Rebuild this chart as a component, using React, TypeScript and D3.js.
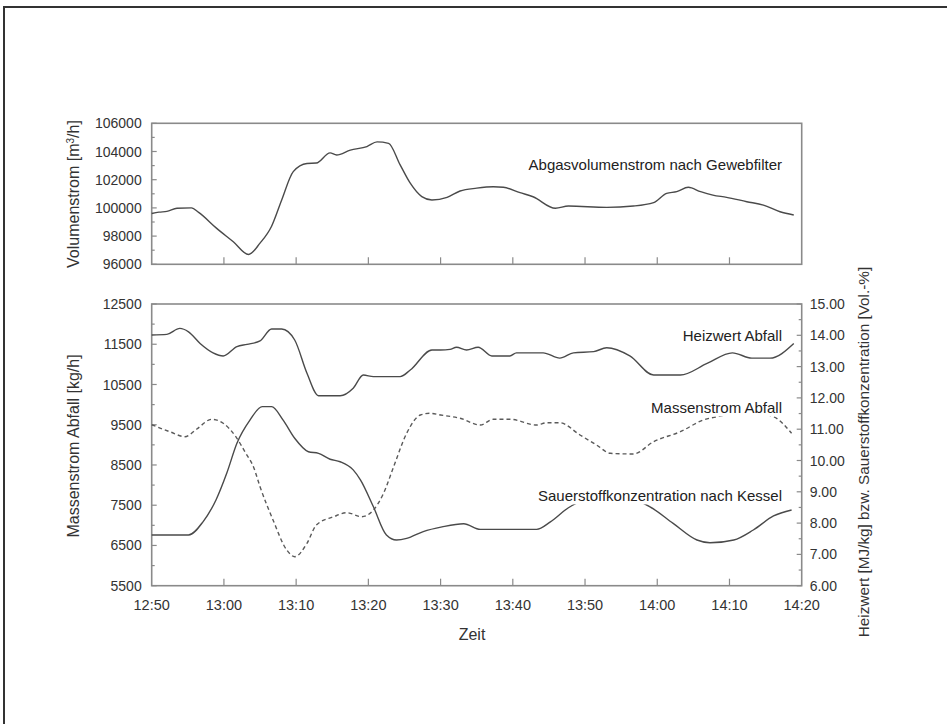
import { useEffect, useRef } from 'react';
import * as d3 from 'd3';

// minutes after 12:50
const xTickLabels = ['12:50', '13:00', '13:10', '13:20', '13:30', '13:40', '13:50', '14:00', '14:10', '14:20'];

const volTime = [0, 1, 2.1, 3.5, 5.5, 6.5, 9, 11.3, 13.4, 15, 16.6, 18, 19.6, 21.5, 22.8, 24.7, 25.6, 27.5, 29.8, 31.2, 32.8, 34.4, 35.8, 37.4, 38.8, 40.9, 42.7, 45, 47.3, 48.7, 51, 52.8, 55.9, 57.7, 63, 66.7, 69.5, 71.3, 72.7, 74.3, 76, 77.7, 79.6, 82.4, 84.7, 87, 88.9];
const volValue = [99600, 99700, 99750, 99980, 100000, 99680, 98550, 97600, 96700, 97500, 98700, 100560, 102570, 103150, 103180, 103900, 103750, 104100, 104350, 104680, 104580, 103050, 101750, 100800, 100560, 100750, 101200, 101400, 101500, 101460, 101080, 100790, 99970, 100130, 100040, 100130, 100370, 101030, 101150, 101460, 101150, 100910, 100750, 100440, 100200, 99730, 99500];

const heizTime = [0, 2.1, 3.9, 5.1, 6.7, 8.5, 9.9, 11.8, 13.2, 15, 16.6, 18, 19.8, 21.5, 23.1, 26.1, 27.9, 29.3, 30.7, 34.4, 35.8, 38.8, 40, 41.3, 42.2, 43.6, 45.2, 47.1, 49.6, 50.5, 54.2, 56.5, 58.4, 61.2, 63, 66.2, 69.5, 73.2, 76.9, 80.4, 83.1, 85.6, 88.9];
const heizValue = [14.01, 14.03, 14.22, 14.11, 13.74, 13.44, 13.34, 13.64, 13.71, 13.82, 14.2, 14.2, 13.85, 12.79, 12.07, 12.07, 12.31, 12.73, 12.68, 12.68, 12.89, 13.53, 13.53, 13.55, 13.62, 13.53, 13.62, 13.34, 13.34, 13.44, 13.44, 13.27, 13.44, 13.48, 13.6, 13.34, 12.73, 12.73, 13.1, 13.44, 13.27, 13.27, 13.74];

const massTime = [0, 2.5, 4.6, 6.2, 8.3, 9.9, 11.8, 13, 14.1, 15, 16.8, 18.7, 19.8, 21.5, 22.8, 25.2, 27, 29.1, 30.7, 32.1, 33.5, 35.3, 37.2, 38.5, 40, 42.7, 45.5, 47.3, 49.6, 53.3, 54.7, 56.5, 59.3, 61.6, 63.5, 66.7, 69.5, 73.2, 76.4, 78.3, 80, 82, 84, 86.1, 88.6];
const massValue = [9500, 9327, 9203, 9387, 9635, 9536, 9163, 8800, 8450, 7960, 7133, 6387, 6221, 6554, 7008, 7215, 7314, 7215, 7381, 7796, 8457, 9287, 9742, 9784, 9742, 9660, 9493, 9635, 9635, 9493, 9550, 9550, 9245, 8996, 8790, 8773, 9080, 9327, 9618, 9700, 9760, 9800, 9780, 9700, 9287];

const o2Time = [0, 5.1, 7.1, 8.9, 10.4, 11.8, 13.6, 15.3, 16.6, 18.2, 19.8, 21.7, 23.1, 24.7, 26.1, 27.9, 28.9, 30.7, 32.5, 33.9, 35.3, 37.6, 40.2, 43.2, 45.5, 53.3, 55.2, 57.7, 60, 63, 66, 69, 72.2, 75.5, 77.3, 80.6, 83.3, 86.1, 88.6];
const o2Value = [7.62, 7.62, 8.04, 8.74, 9.6, 10.55, 11.29, 11.72, 11.72, 11.29, 10.71, 10.28, 10.23, 10.04, 9.96, 9.7, 9.38, 8.52, 7.62, 7.46, 7.51, 7.73, 7.88, 7.98, 7.8, 7.8, 8.04, 8.49, 8.75, 8.85, 8.8, 8.52, 7.99, 7.46, 7.37, 7.46, 7.78, 8.23, 8.42];

const volTicks = [96000, 98000, 100000, 102000, 104000, 106000];
const massTicks = [5500, 6500, 7500, 8500, 9500, 10500, 11500, 12500];
const rightTicks = [6, 7, 8, 9, 10, 11, 12, 13, 14, 15];

export default function App() {
  const svgRef = useRef<SVGSVGElement>(null);

  useEffect(() => {
    if (!svgRef.current) return;
    const svg = d3.select(svgRef.current);
    svg.selectAll('*').remove();

    const font = '"Liberation Sans", Arial, sans-serif';
    const textColor = '#333';
    const frameColor = '#8a8a8a';
    const lineColor = '#4a4a4a';

    const left = 151.7;
    const right = 801.7;
    const x = d3.scaleLinear().domain([0, 90]).range([left, right]);

    const topPanel = { top: 123.3, bottom: 264.3 };
    const botPanel = { top: 304, bottom: 585.7 };

    const yVol = d3.scaleLinear().domain([96000, 106000]).range([topPanel.bottom, topPanel.top]);
    const yMass = d3.scaleLinear().domain([5500, 12500]).range([botPanel.bottom, botPanel.top]);
    const yRight = d3.scaleLinear().domain([6, 15]).range([botPanel.bottom, botPanel.top]);

    // outer frame
    svg.append('rect')
      .attr('x', 4).attr('y', 7)
      .attr('width', 960).attr('height', 740)
      .attr('fill', 'none')
      .attr('stroke', '#333')
      .attr('stroke-width', 2);

    const drawFrame = (p: { top: number; bottom: number }) => {
      svg.append('rect')
        .attr('x', left).attr('y', p.top)
        .attr('width', right - left).attr('height', p.bottom - p.top)
        .attr('fill', 'none')
        .attr('stroke', frameColor)
        .attr('stroke-width', 1.6);
      // x ticks, inward
      for (let i = 1; i < 9; i++) {
        svg.append('line')
          .attr('x1', x(i * 10)).attr('x2', x(i * 10))
          .attr('y1', p.bottom).attr('y2', p.bottom - 7)
          .attr('stroke', frameColor).attr('stroke-width', 1.2);
      }
    };
    drawFrame(topPanel);
    drawFrame(botPanel);

    const yTicks = (scale: d3.ScaleLinear<number, number>, ticks: number[], side: 'left' | 'right', fmt: (v: number) => string) => {
      const x0 = side === 'left' ? left : right;
      const dir = side === 'left' ? 1 : -1;
      ticks.forEach((t, i) => {
        svg.append('line')
          .attr('x1', x0).attr('x2', x0 + dir * 5)
          .attr('y1', scale(t)).attr('y2', scale(t))
          .attr('stroke', frameColor).attr('stroke-width', 1.2);
        if (i < ticks.length - 1) {
          const mid = (t + ticks[i + 1]) / 2;
          svg.append('line')
            .attr('x1', x0).attr('x2', x0 + dir * 3)
            .attr('y1', scale(mid)).attr('y2', scale(mid))
            .attr('stroke', frameColor).attr('stroke-width', 1.2);
        }
        svg.append('text')
          .attr('x', side === 'left' ? left - 10 : right + 8)
          .attr('y', scale(t))
          .attr('dy', '0.36em')
          .attr('text-anchor', side === 'left' ? 'end' : 'start')
          .style('font-family', font)
          .style('font-size', '14px')
          .style('fill', textColor)
          .text(fmt(t));
      });
    };
    yTicks(yVol, volTicks, 'left', d => String(d));
    yTicks(yMass, massTicks, 'left', d => String(d));
    yTicks(yRight, rightTicks, 'right', d => d.toFixed(2));

    xTickLabels.forEach((lbl, i) => {
      svg.append('text')
        .attr('x', x(i * 10))
        .attr('y', 610)
        .attr('text-anchor', 'middle')
        .style('font-family', font)
        .style('font-size', '14.5px')
        .style('fill', textColor)
        .text(lbl);
    });

    svg.append('text')
      .attr('x', 472).attr('y', 640)
      .attr('text-anchor', 'middle')
      .style('font-family', font)
      .style('font-size', '16px')
      .style('fill', textColor)
      .text('Zeit');

    const rotTitle = (cx: number, cy: number, label: string, size = 16) => {
      const t = svg.append('text')
        .attr('transform', `translate(${cx},${cy}) rotate(-90)`)
        .attr('text-anchor', 'middle')
        .style('font-family', font)
        .style('font-size', `${size}px`)
        .style('fill', textColor);
      return t.text(label);
    };
    const volTitle = rotTitle(79, 194, '');
    volTitle.append('tspan').text('Volumenstrom [m');
    volTitle.append('tspan').attr('dy', -5).style('font-size', '10px').text('3');
    volTitle.append('tspan').attr('dy', 5).text('/h]');
    rotTitle(79, 446, 'Massenstrom Abfall [kg/h]');
    rotTitle(869, 452, 'Heizwert [MJ/kg] bzw. Sauerstoffkonzentration [Vol.-%]', 15.3);

    const series = (ts: number[], vs: number[], scale: d3.ScaleLinear<number, number>, dashed: boolean) => {
      const pts = ts.map((t, i) => [t, vs[i]] as [number, number]);
      const line = d3.line<[number, number]>()
        .x(d => x(d[0]))
        .y(d => scale(d[1]))
        .curve(d3.curveMonotoneX);
      svg.append('path')
        .attr('d', line(pts))
        .attr('fill', 'none')
        .attr('stroke', dashed ? '#5a5a5a' : lineColor)
        .attr('stroke-width', 1.4)
        .attr('stroke-dasharray', dashed ? '4,3' : null);
    };
    series(volTime, volValue, yVol, false);
    series(heizTime, heizValue, yRight, false);
    series(massTime, massValue, yMass, true);
    series(o2Time, o2Value, yRight, false);

    const annotate = (xEnd: number, yMid: number, label: string) => {
      const g = svg.append('g');
      const bg = g.append('rect').attr('fill', '#fff');
      const t = g.append('text')
        .attr('x', xEnd).attr('y', yMid)
        .attr('dy', '0.36em')
        .attr('text-anchor', 'end')
        .style('font-family', font)
        .style('font-size', '15px')
        .style('fill', '#222')
        .text(label);
      const b = (t.node() as SVGTextElement).getBBox();
      bg.attr('x', b.x - 3).attr('y', b.y).attr('width', b.width + 6).attr('height', b.height);
    };
    annotate(782, 165, 'Abgasvolumenstrom nach Gewebfilter');
    annotate(782, 336, 'Heizwert Abfall');
    annotate(782, 408, 'Massenstrom Abfall');
    annotate(782, 496, 'Sauerstoffkonzentration nach Kessel');
  }, []);

  return (
    <div style={{ position: 'absolute', left: 0, top: 0, width: 947, height: 724, background: '#fff', overflow: 'hidden' }}>
      <svg ref={svgRef} width={947} height={724}></svg>
    </div>
  );
}
